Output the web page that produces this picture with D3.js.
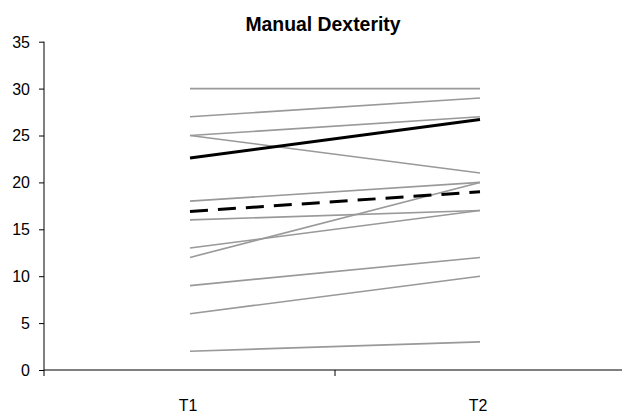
<!DOCTYPE html>
<html>
<head>
<meta charset="utf-8">
<script src="https://cdn.jsdelivr.net/npm/d3@7"></script>
<style>
  body { margin: 0; background: #fff; }
  svg { display: block; font-family: "Liberation Sans", Arial, sans-serif; }
</style>
</head>
<body>
<svg id="chart" width="622" height="418"></svg>
<script>
// Time points on the x axis
var categories = ["T1", "T2"];
// One grey line per subject, value at T1 and at T2
var subjectT1 = [30, 27, 25, 25, 18, 16, 13, 12, 9, 6, 2];
var subjectT2 = [30, 29, 27, 21, 20, 17, 17, 20, 12, 10, 3];
// The two black summary lines
var solidLine = [22.6, 26.7];
var dashedLine = [16.9, 19.0];
var yTicks = [0, 5, 10, 15, 20, 25, 30, 35];

var svg = d3.select("#chart");

// Scales
var x = d3.scaleBand().domain(categories).range([45, 625]);
var y = d3.scaleLinear().domain([0, 35]).range([370, 41.7]);

var line = d3.line()
    .x(function (d, i) { return x(categories[i]) + x.bandwidth() / 2; })
    .y(function (d) { return y(d); });

// Title
svg.append("text")
    .attr("transform", "translate(323,31) scale(0.97,1)")
    .attr("text-anchor", "middle")
    .style("font-size", "20px")
    .style("font-weight", "bold")
    .text("Manual Dexterity");

// Y axis
var yAxis = svg.append("g")
    .attr("transform", "translate(44,0)")
    .call(d3.axisLeft(y).tickValues(yTicks).tickSize(5).tickSizeOuter(0).tickPadding(9));
yAxis.select(".domain").remove();
yAxis.selectAll("line").attr("stroke", "#000");
yAxis.selectAll("text")
    .style("font-size", "17px")
    .style("font-family", "Liberation Sans, Arial, sans-serif")
    .attr("fill", "#000")
    .attr("transform", function () {
        // narrow the digits around their right edge
        return "translate(-14,0) scale(0.94,1) translate(14,0)";
    });
yAxis.append("line")
    .attr("x1", 0).attr("x2", 0)
    .attr("y1", y(35)).attr("y2", y(0) + 6)
    .attr("stroke", "#000");

// X axis line, boundary tick and labels
svg.append("line")
    .attr("x1", 44).attr("x2", 622)
    .attr("y1", y(0)).attr("y2", y(0))
    .attr("stroke", "#000");
svg.selectAll(".xtick").data([x.range()[0] + x.step()])
    .enter().append("line")
    .attr("class", "xtick")
    .attr("x1", function (d) { return d; }).attr("x2", function (d) { return d; })
    .attr("y1", y(0)).attr("y2", y(0) + 6)
    .attr("stroke", "#000");
svg.selectAll(".xlabel").data(categories)
    .enter().append("text")
    .attr("class", "xlabel")
    .attr("transform", function (d) {
        return "translate(" + (x(d) + x.bandwidth() / 2 - 2) + ",411) scale(0.94,1)";
    })
    .attr("text-anchor", "middle")
    .style("font-size", "17px")
    .text(function (d) { return d; });

// Subject lines
var pairs = subjectT1.map(function (v, i) { return [v, subjectT2[i]]; });
svg.selectAll(".subject").data(pairs)
    .enter().append("path")
    .attr("class", "subject")
    .attr("d", line)
    .attr("fill", "none")
    .attr("stroke", "#999999")
    .attr("stroke-width", 1.6);

// Summary lines
svg.append("path")
    .attr("d", line(solidLine))
    .attr("fill", "none")
    .attr("stroke", "#000")
    .attr("stroke-width", 3);
svg.append("path")
    .attr("d", line(dashedLine))
    .attr("fill", "none")
    .attr("stroke", "#000")
    .attr("stroke-width", 3)
    .attr("stroke-dasharray", "18,10");
</script>
</body>
</html>
